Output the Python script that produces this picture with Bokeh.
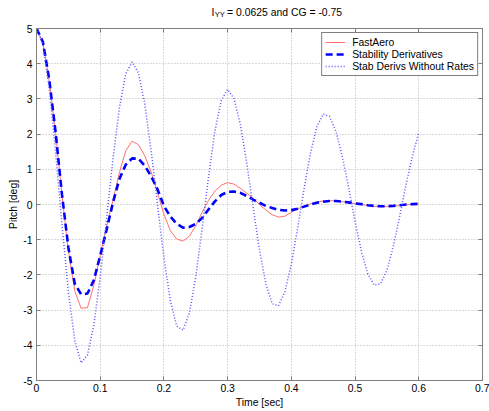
from bokeh.plotting import figure
from bokeh.layouts import column
from bokeh.core.properties import value
from bokeh.models import FixedTicker, Legend, LegendItem, LinearAxis, Range1d
from bokeh.embed import file_html
from bokeh.resources import INLINE

# ---------------- data ----------------
time = [0.00, 0.01, 0.02, 0.03, 0.04, 0.05, 0.06, 0.07, 0.08, 0.09,
        0.10, 0.11, 0.12, 0.13, 0.14, 0.15, 0.16, 0.17, 0.18, 0.19,
        0.20, 0.21, 0.22, 0.23, 0.24, 0.25, 0.26, 0.27, 0.28, 0.29,
        0.30, 0.31, 0.32, 0.33, 0.34, 0.35, 0.36, 0.37, 0.38, 0.39,
        0.40, 0.41, 0.42, 0.43, 0.44, 0.45, 0.46, 0.47, 0.48, 0.49,
        0.50, 0.51, 0.52, 0.53, 0.54, 0.55, 0.56, 0.57, 0.58, 0.59,
        0.60]

fast_aero = [5.00, 4.60, 3.52, 2.02, 0.26, -1.30, -2.45, -2.95, -2.93, -2.30,
             -1.45, -0.62, 0.12, 0.90, 1.52, 1.80, 1.70, 1.38, 0.92, 0.33,
             -0.28, -0.74, -0.98, -1.04, -0.90, -0.60, -0.22, 0.12, 0.38, 0.55,
             0.62, 0.58, 0.46, 0.32, 0.18, 0.00, -0.16, -0.29, -0.36, -0.33,
             -0.22, -0.12, -0.05, 0.02, 0.07, 0.10, 0.11, 0.10, 0.08, 0.05,
             0.02, 0.00, -0.03, -0.05, -0.06, -0.06, -0.05, -0.03, -0.01, 0.01,
             0.02]

stab_derivs = [5.00, 4.62, 3.55, 2.05, 0.28, -1.22, -2.25, -2.55, -2.53, -2.15,
               -1.45, -0.72, 0.05, 0.72, 1.13, 1.31, 1.30, 1.10, 0.80, 0.43,
               -0.04, -0.34, -0.55, -0.66, -0.64, -0.55, -0.38, -0.14, 0.09, 0.27,
               0.36, 0.37, 0.33, 0.24, 0.14, 0.05, -0.04, -0.10, -0.15, -0.17,
               -0.16, -0.12, -0.06, 0.00, 0.05, 0.08, 0.10, 0.10, 0.08, 0.06,
               0.03, 0.01, -0.02, -0.04, -0.05, -0.05, -0.04, -0.02, 0.00, 0.01,
               0.02]

stab_no_rates = [5.00, 4.56, 3.30, 1.48, -0.57, -2.47, -3.86, -4.50, -4.28, -3.42,
                 -2.06, -0.40, 1.29, 2.73, 3.71, 4.05, 3.74, 2.85, 1.52, -0.01,
                 -1.51, -2.72, -3.45, -3.57, -3.08, -2.05, -0.68, 0.78, 2.08, 2.96,
                 3.27, 3.01, 2.27, 1.18, -0.08, -1.29, -2.26, -2.82, -2.87, -2.47,
                 -1.69, -0.66, 0.45, 1.46, 2.21, 2.57, 2.50, 2.08, 1.36, 0.47,
                 -0.48, -1.33, -1.97, -2.29, -2.25, -1.87, -1.19, -0.33, 0.57, 1.37,
                 2.05]

series_names = ["FastAero", "Stability Derivatives", "Stab Derivs Without Rates"]

x_ticks = [0, 0.1, 0.2, 0.3, 0.4, 0.5, 0.6, 0.7]
x_tick_labels = ["0", "0.1", "0.2", "0.3", "0.4", "0.5", "0.6", "0.7"]
y_ticks = [-5, -4, -3, -2, -1, 0, 1, 2, 3, 4, 5]
y_tick_labels = ["-5", "-4", "-3", "-2", "-1", "0", "1", "2", "3", "4", "5"]

title_main = "I"
title_sub = "YY"
title_rest = "= 0.0625 and CG = -0.75"
x_label = "Time [sec]"
y_label = "Pitch [deg]"

# ---------------- styling ----------------
FONT = "Liberation Sans"
FS = "10.4px"
AXC = "#808080"
W, H, TITLE_H = 489, 411, 22

# ---------------- title strip (text with subscript) ----------------
t = figure(width=W, height=TITLE_H, output_backend="svg", toolbar_location=None,
           x_range=Range1d(0, W), y_range=Range1d(TITLE_H, 0),
           min_border=0, min_border_left=0, min_border_right=0,
           min_border_top=0, min_border_bottom=0)
t.title.visible = False
t.axis.visible = False
t.grid.visible = False
t.outline_line_color = None
t.background_fill_color = "white"
t.border_fill_color = "white"
t.text(x=[192], y=[11.5], text=[title_main], text_font=value(FONT),
       text_font_size=FS, text_baseline="alphabetic", text_align="left",
       text_color="black")
t.text(x=[195.3], y=[14], text=[title_sub], text_font=value(FONT),
       text_font_size="7.6px", text_baseline="alphabetic", text_align="left",
       text_color="black")
t.text(x=[209], y=[11.5], text=[title_rest], text_font=value(FONT),
       text_font_size=FS, text_baseline="alphabetic", text_align="left",
       text_color="black")

# ---------------- main plot ----------------
p = figure(width=W, height=H - TITLE_H, output_backend="svg", toolbar_location=None,
           x_range=Range1d(0, 0.7), y_range=Range1d(-5, 5),
           min_border_left=36, min_border_right=7, min_border_top=6,
           min_border_bottom=31)
p.title.visible = False
p.background_fill_color = "white"
p.border_fill_color = "white"
p.outline_line_color = AXC
p.outline_line_width = 1

def style_axis(ax, ticks, labels, show_labels=True):
    ax.ticker = FixedTicker(ticks=ticks)
    ax.major_label_overrides = {tk: lb for tk, lb in zip(ticks, labels)}
    ax.major_tick_in = 4
    ax.major_tick_out = 0
    ax.minor_tick_line_color = None
    ax.major_tick_line_color = AXC
    ax.axis_line_color = AXC
    ax.major_label_text_font = FONT
    if show_labels:
        ax.major_label_text_color = "black"
        ax.major_label_text_font_size = FS
        ax.major_label_standoff = 3
    else:
        ax.major_label_text_color = None
        ax.major_label_text_font_size = "1px"
        ax.major_label_standoff = 0
    ax.axis_label_text_font = FONT
    ax.axis_label_text_font_size = FS
    ax.axis_label_text_font_style = "normal"
    ax.axis_label_text_color = "black"
    ax.axis_label_standoff = 2

style_axis(p.xaxis[0], x_ticks, x_tick_labels)
style_axis(p.yaxis[0], y_ticks, y_tick_labels)
p.xaxis[0].axis_label = x_label
p.yaxis[0].axis_label = y_label
p.yaxis[0].major_label_standoff = 4
p.yaxis[0].axis_label_standoff = 1

# box ticks on top and right (no labels), as in the reference
top_ax = LinearAxis()
right_ax = LinearAxis()
style_axis(top_ax, x_ticks, x_tick_labels, show_labels=False)
style_axis(right_ax, y_ticks, y_tick_labels, show_labels=False)
p.add_layout(top_ax, "above")
p.add_layout(right_ax, "right")

p.xgrid.ticker = FixedTicker(ticks=x_ticks)
p.ygrid.ticker = FixedTicker(ticks=y_ticks)
for g in (p.xgrid, p.ygrid):
    g.grid_line_color = "#b4b4b4"
    g.grid_line_dash = "1 2"
    g.grid_line_width = 1

r1 = p.line(time, fast_aero, line_color="#ff7070", line_width=1)
r2 = p.line(time, stab_derivs, line_color="#0000ff", line_width=2.6, line_dash="7 4")
r3 = p.line(time, stab_no_rates, line_color="#5555ff", line_width=1.5, line_dash="1 2")

legend = Legend(items=[LegendItem(label=series_names[0], renderers=[r1]),
                       LegendItem(label=series_names[1], renderers=[r2]),
                       LegendItem(label=series_names[2], renderers=[r3])],
                location="top_right")
legend.label_text_font = FONT
legend.label_text_font_size = FS
legend.label_text_color = "black"
legend.glyph_width = 20
legend.glyph_height = 12
legend.label_height = 12
legend.label_standoff = 7
legend.padding = 3
legend.spacing = 0
legend.margin = 4
legend.border_line_color = "black"
legend.border_line_width = 1
legend.background_fill_color = "white"
legend.background_fill_alpha = 1
p.add_layout(legend)

layout = column(t, p, spacing=0)
open("out.html", "w").write(file_html(layout, INLINE))
